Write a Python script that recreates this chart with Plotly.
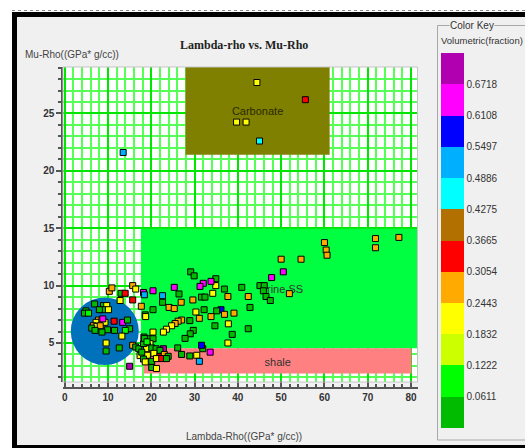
import plotly.graph_objects as go

W, H = 525, 448

# ---------------- data ----------------
# colour-key classes (bottom -> top) and their boundary labels
class_colors = ["#00bb00", "#00ff00", "#ccff00", "#ffff00", "#ffaa00", "#ff0000",
                "#b27000", "#00ffff", "#00b0ff", "#0000ff", "#ff00ff", "#b000b0"]
key_labels = ["0.0611", "0.1222", "0.1832", "0.2443", "0.3054", "0.3665",
              "0.4275", "0.4886", "0.5497", "0.6108", "0.6718"]
class_centers = [0.0305, 0.0916, 0.1527, 0.2138, 0.2749, 0.3360,
                 0.3970, 0.4581, 0.5192, 0.5803, 0.6413, 0.7024]

lambda_rho = [
    # carbonate + outlier
    44.4, 55.6, 39.7, 41.9, 45.0, 13.5,
    # upper trend
    60.0, 60.4, 60.6, 71.8, 71.8, 77.2, 50.0, 54.6, 50.5, 47.8, 51.9,
    # mid group
    45.1, 46.1, 45.9, 46.5, 47.5, 40.9, 36.9, 34.9, 34.9, 37.7, 42.4, 42.8, 36.1, 35.1,
    36.9, 39.1, 37.8, 34.7, 38.7, 42.4, 37.7, 33.6, 31.9, 31.6,
    # 18-35 group
    29.1, 29.9, 32.0, 31.25, 33.8, 25.3, 20.4, 22.6, 26.4, 31.6, 32.4, 34.2, 29.6, 22.6,
    26.9, 17.7, 24.1, 25.3, 20.4, 32.2, 30.3, 31.1, 33.8, 27.0, 26.2, 25.5, 28.9, 24.7,
    23.5, 22.8, 29.7, 29.0, 27.8, 20.4,
    # dense low cluster
    18.3, 19.4, 20.4, 18.5, 19.7, 19.1, 17.75, 18.9, 20.1, 21.1, 22.8, 22.0, 26.1, 17.7,
    19.1, 20.6, 22.0, 23.0, 23.9, 27.0, 28.9, 30.5, 31.1, 20.1, 21.2, 22.4, 23.5, 20.1, 21.2,
    # circle region
    10.3, 10.9, 15.7, 16.4, 13.0, 13.96, 18.2, 18.4, 12.8, 15.7, 6.9, 8.95, 9.7, 8.8,
    10.1, 8.0, 4.9, 4.55, 5.5, 18.6, 7.8, 7.25, 8.6, 9.3, 8.8, 11.4, 13.4, 14.5,
    6.6, 7.4, 8.2, 6.25, 7.0, 9.9, 11.5, 15.0, 14.0, 13.2, 8.6, 9.56, 12.6, 9.56,
    15.7, 16.4, 17.1, 18.2, 18.4, 19.0, 17.4, 18.2, 18.6, 17.8, 15.0, 18.7,
]
mu_rho = [
    27.7, 26.2, 24.25, 24.25, 22.6, 21.6,
    13.75, 13.1, 12.65, 14.1, 13.3, 14.2, 12.3, 12.3, 11.2, 10.7, 9.3,
    10.0, 10.0, 9.55, 9.05, 8.7, 9.85, 9.7, 10.0, 10.6, 9.05, 9.05, 8.1, 7.9, 7.8,
    7.5, 7.6, 6.67, 6.5, 5.75, 6.24, 5.0, 4.2, 4.5, 4.8,
    11.2, 10.85, 10.2, 9.93, 10.37, 9.85, 9.55, 9.12, 9.27, 9.0, 9.0, 9.33, 8.75, 8.55,
    8.55, 8.2, 8.1, 8.0, 7.9, 7.9, 7.7, 7.15, 7.3, 7.0, 6.9, 6.7, 6.95, 6.5,
    6.2, 5.95, 6.1, 5.8, 5.4, 5.95,
    5.52, 5.37, 5.37, 5.09, 4.94, 4.74, 4.4, 4.5, 4.57, 4.5, 4.5, 4.36, 4.57, 4.1,
    3.93, 4.1, 3.8, 4.0, 3.84, 4.0, 3.87, 3.93, 3.4, 3.4, 3.64, 3.64, 3.64, 2.86, 2.78,
    9.5, 9.8, 10.0, 9.7, 9.33, 9.33, 9.4, 9.2, 8.7, 8.75, 8.4, 8.26, 8.26, 7.9,
    7.9, 7.9, 7.8, 7.6, 7.6, 7.45, 7.0, 6.8, 6.95, 6.8, 7.1, 6.9, 6.8, 7.0,
    6.5, 6.45, 6.5, 6.3, 6.1, 6.15, 6.1, 6.24, 6.1, 5.6, 5.95, 5.0, 4.57, 4.3,
    4.8, 4.65, 4.5, 4.95, 5.4, 5.1, 3.9, 3.6, 3.35, 4.2, 2.97, 7.3,
]
vol_class = [
    3, 5, 3, 3, 7, 8,
    4, 4, 4, 4, 4, 4, 4, 4, 10, 10, 4,
    0, 0, 0, 0, 0, 0, 0, 3, 0, 4, 4, 0, 9, 0,
    4, 4, 3, 0, 0, 0, 3, 10, 0, 9,
    0, 0, 10, 10, 10, 10, 10, 8, 0, 0, 0, 3, 4, 0,
    4, 4, 4, 4, 0, 0, 3, 4, 4, 4, 4, 4, 0, 3,
    3, 3, 0, 0, 0, 3,
    0, 0, 0, 0, 3, 0, 8, 3, 0, 0, 11, 0, 0, 3,
    3, 3, 5, 4, 0, 0, 0, 3, 8, 0, 3, 5, 0, 0, 3,
    4, 4, 4, 3, 0, 5, 10, 8, 3, 5, 0, 0, 3, 0,
    3, 0, 0, 0, 1, 0, 4, 3, 4, 3, 10, 5, 10, 0,
    4, 3, 4, 0, 0, 0, 0, 0, 1, 3, 0, 3, 0, 0,
    4, 0, 0, 0, 0, 1, 3, 0, 3, 0, 11, 3,
]
vol_fraction = [class_centers[c] for c in vol_class]

x_ticks = [0, 10, 20, 30, 40, 50, 60, 70, 80]
y_ticks = [5, 10, 15, 20, 25]


def pxx(p):
    return p / W


def pxy(p):
    return 1 - p / H


FONT = "Liberation Sans, Arial, sans-serif"

n = len(class_colors)
cmax = 0.73296
colorscale = []
for i, c in enumerate(class_colors):
    colorscale.append([i / n, c])
    colorscale.append([(i + 1) / n, c])

fig = go.Figure()
fig.add_trace(go.Scatter(
    x=lambda_rho, y=mu_rho, mode="markers", showlegend=False,
    marker=dict(
        symbol="square", size=6, line=dict(width=1, color="#000000"),
        color=vol_fraction, colorscale=colorscale, cmin=0, cmax=cmax,
        colorbar=dict(
            x=pxx(441), xanchor="left", y=pxy(240.5), yanchor="middle",
            thickness=23, thicknessmode="pixels", len=375, lenmode="pixels",
            tickvals=[float(s) for s in key_labels], ticktext=key_labels,
            ticks="", tickfont=dict(family=FONT, size=10, color="#333333"),
            outlinewidth=0, xpad=0, ypad=0, bgcolor="rgba(0,0,0,0)",
        ),
    ),
))

shapes = []
# page decoration
shapes.append(dict(type="rect", xref="paper", yref="paper", x0=0, x1=1.02, y0=pxy(12), y1=1.02,
                   fillcolor="#ffffff", line=dict(width=0), layer="below"))
shapes.append(dict(type="rect", xref="paper", yref="paper", x0=-0.02, x1=pxx(12), y0=-0.02, y1=1.02,
                   fillcolor="#ffffff", line=dict(width=0), layer="below"))
shapes.append(dict(type="line", xref="paper", yref="paper", x0=pxx(12), x1=1.02, y0=pxy(10.5), y1=pxy(10.5),
                   line=dict(width=1, color="#888888", dash="dot")))
shapes.append(dict(type="rect", xref="paper", yref="paper", x0=pxx(12), x1=1.02, y0=pxy(17), y1=pxy(12),
                   fillcolor="#000000", line=dict(width=0)))
shapes.append(dict(type="rect", xref="paper", yref="paper", x0=pxx(12), x1=pxx(17), y0=-0.02, y1=pxy(12),
                   fillcolor="#000000", line=dict(width=0)))
shapes.append(dict(type="rect", xref="paper", yref="paper", x0=pxx(12), x1=1.02, y0=-0.02, y1=pxy(445),
                   fillcolor="#000000", line=dict(width=0)))
# colour key group box
shapes.append(dict(type="rect", xref="paper", yref="paper", x0=pxx(437.5), x1=pxx(540), y0=pxy(440), y1=pxy(25.5),
                   fillcolor="rgba(0,0,0,0)", line=dict(width=1, color="#a8a8a8")))
# plot frame
shapes.append(dict(type="rect", xref="paper", yref="paper", x0=pxx(63), x1=pxx(417.5), y0=pxy(382), y1=pxy(67),
                   fillcolor="rgba(0,0,0,0)", line=dict(width=1, color="#c4c4c4")))

# zones
lab = dict(font=dict(family=FONT, size=11, color="#333333"), textposition="middle center")
shapes.append(dict(type="rect", xref="x", yref="y", x0=17.6, x1=82.5, y0=4.55, y1=14.95,
                   fillcolor="#00ff40", line=dict(width=0), layer="between",
                   label=dict(text="Brine SS", **lab)))
shapes.append(dict(type="rect", xref="x", yref="y", x0=18.3, x1=80.1, y0=2.35, y1=4.55,
                   fillcolor="#ff8080", line=dict(width=0), layer="between",
                   label=dict(text="shale", **lab)))
shapes.append(dict(type="rect", xref="x", yref="y", x0=27.9, x1=61.2, y0=21.4, y1=29.2,
                   fillcolor="#808000", line=dict(width=0), layer="between",
                   label=dict(text="Carbonate", font=dict(family=FONT, size=11, color="#2a2a00"),
                              textposition="middle center")))
shapes.append(dict(type="circle", xref="x", yref="y", x0=1.4, x1=17.1, y0=3.08, y1=8.96,
                   fillcolor="#0072bc", line=dict(width=0), layer="between"))


def note(text, x, y, size=10, color="#444444", family=FONT, xanchor="center", **kw):
    return dict(text=text, x=pxx(x), y=pxy(y), xref="paper", yref="paper",
                xanchor=xanchor, yanchor="middle", showarrow=False,
                font=dict(family=family, size=size, color=color), **kw)


annotations = [
    note("<b>Lambda-rho vs. Mu-Rho</b>", 244, 45, size=12, color="#222222",
         family="Liberation Serif, Times New Roman, serif"),
    note("Mu-Rho((GPa* g/cc))", 23, 55, xanchor="left"),
    note("Lambda-Rho((GPa* g/cc))", 243.5, 436),
    note("Color Key", 472, 25.5, color="#333333", bgcolor="#f0f0f0", borderpad=0),
    note("Volumetric(fraction)", 439, 40, size=9.5, color="#333333", xanchor="left"),
]

tickfont = dict(family=FONT, size=10, color="#333333", weight="bold")
fig.update_layout(
    width=W, height=H, margin=dict(l=0, r=0, t=0, b=0, autoexpand=False),
    paper_bgcolor="#f0f0f0", plot_bgcolor="#ffffff",
    shapes=shapes, annotations=annotations,
    xaxis=dict(
        domain=[pxx(63), pxx(417.5)], range=[-0.4, 81.5], anchor="free", position=pxy(388),
        tickvals=x_ticks, ticks="inside", ticklen=6, tickwidth=1.5, tickcolor="#555555",
        showline=True, linecolor="#555555", linewidth=1.5, zeroline=False,
        showgrid=True, gridcolor="#00e600", gridwidth=2, tickfont=tickfont, automargin=False,
        minor=dict(dtick=2, tick0=0, showgrid=True, gridcolor="#55ff55", gridwidth=1.5,
                   ticks="inside", ticklen=3, tickcolor="#555555"),
    ),
    yaxis=dict(
        domain=[pxy(382), pxy(67)], range=[1.6, 29.05], anchor="x",
        tickvals=y_ticks, ticks="outside", ticklen=5, tickwidth=1.5, tickcolor="#555555",
        showline=True, linecolor="#555555", linewidth=1.5, zeroline=False,
        showgrid=True, gridcolor="#00e600", gridwidth=2, tickfont=tickfont, automargin=False,
        minor=dict(dtick=1, tick0=0, showgrid=True, gridcolor="#55ff55", gridwidth=1.5,
                   ticks="outside", ticklen=3, tickcolor="#555555"),
    ),
)

fig.write_html("out.html", config={"displayModeBar": False},
               post_script="document.body.style.margin='0';document.body.style.padding='0';"
                           "document.body.style.overflow='hidden';")
